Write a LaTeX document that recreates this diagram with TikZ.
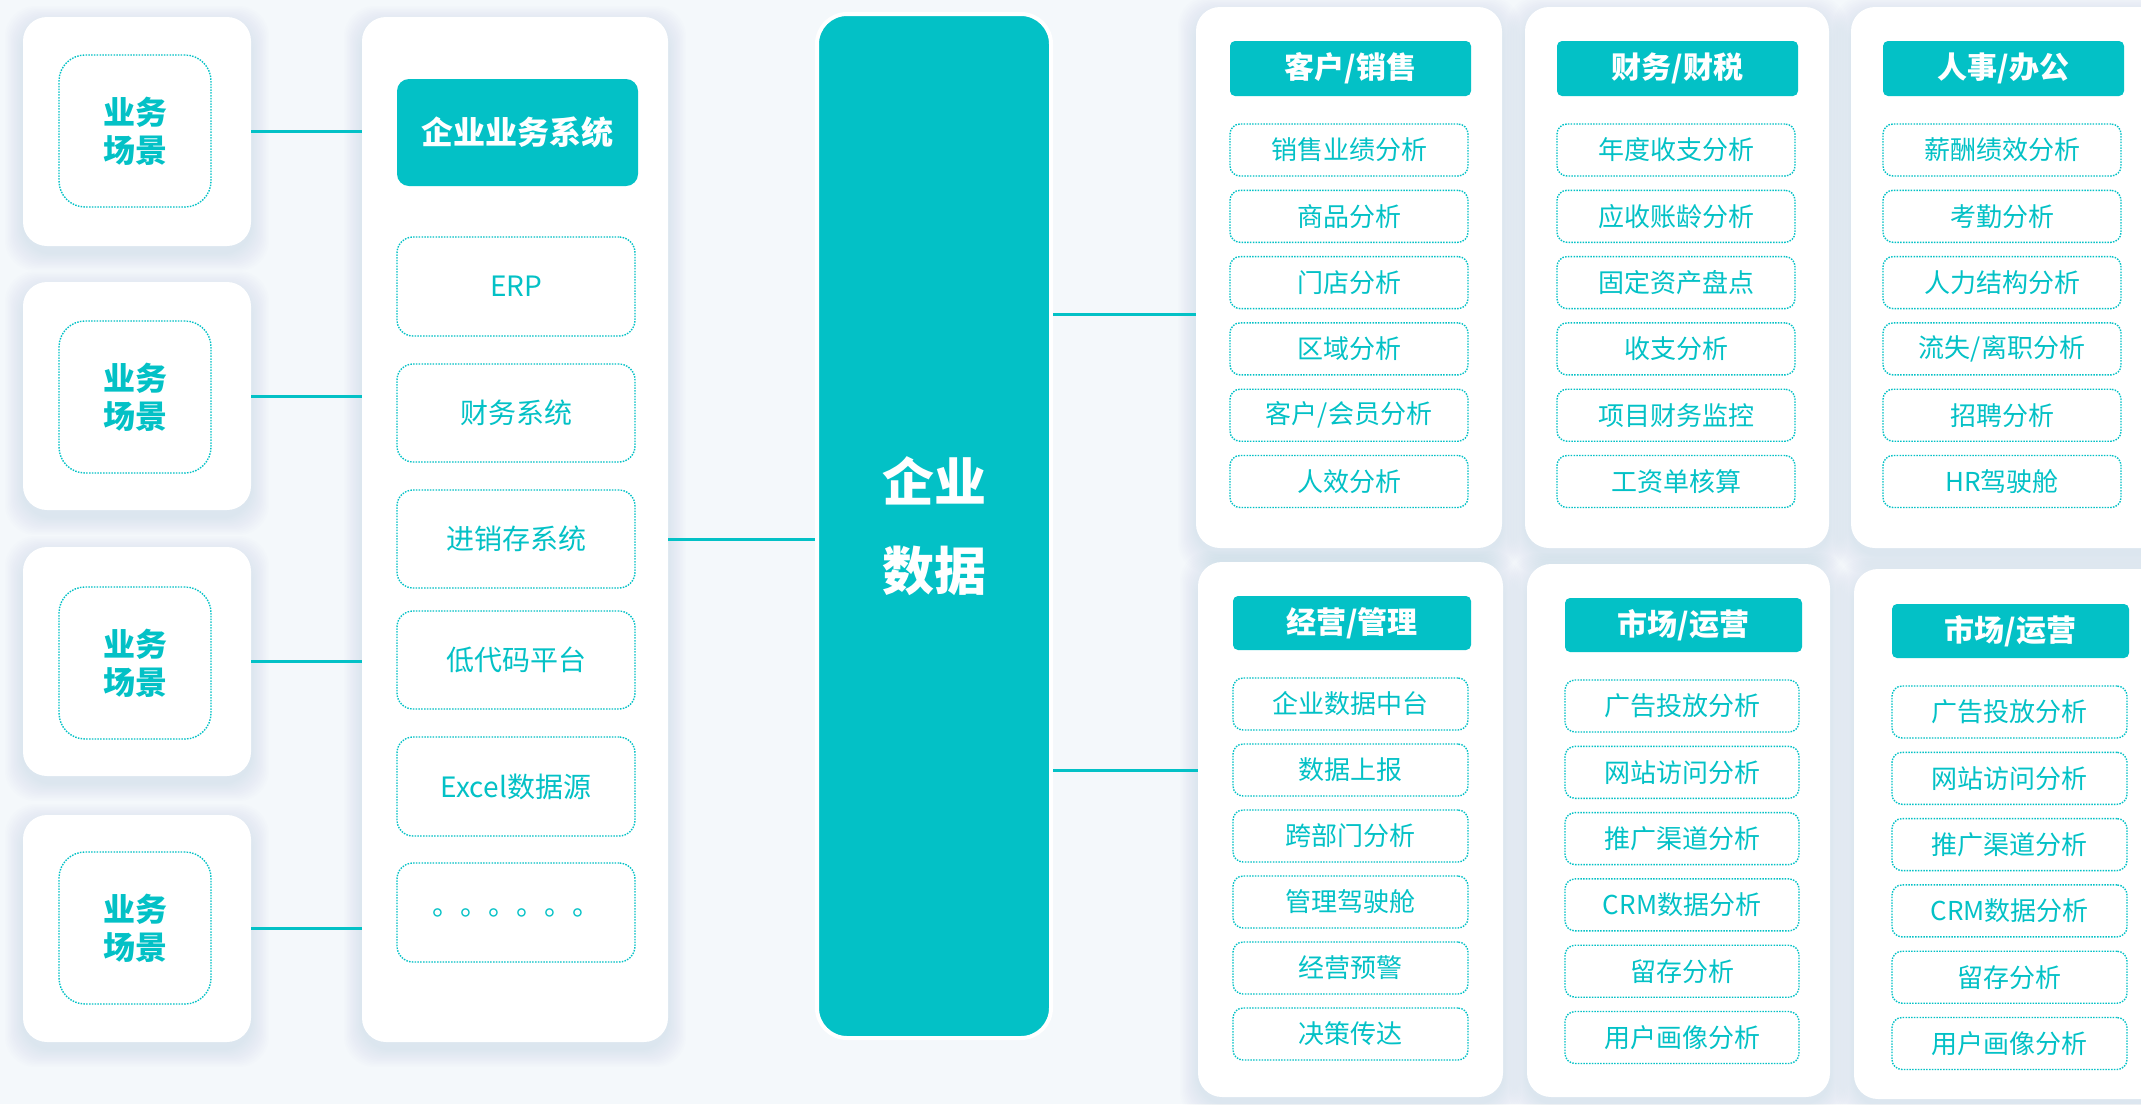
\documentclass[tikz,border=0pt]{standalone}
\usepackage{fontspec}
\setmainfont{Noto Sans CJK SC}
\definecolor{teal1}{HTML}{03C1C6}
\definecolor{bgc}{HTML}{F4F8FB}
\definecolor{shc}{HTML}{7F98A8}
\newcommand\mkbox[7]{%
  \node[#6, minimum width={((#4)-(#2))*1pt}, minimum height={((#5)-(#3))*1pt}, inner sep=0pt]
    (#1) at ({((#2)+(#4))/2},{((#3)+(#5))/2}) {#7};}
\newcommand\mkcard[5]{%
  \foreach \k in {1,...,12}{%
    \fill[shc, fill opacity=0.013, rounded corners=30pt]
      ({(#2)-1.5*\k},{(#3)-1.5*\k+7}) rectangle ({(#4)+1.5*\k},{(#5)+1.5*\k+7});}%
  \mkbox{#1}{#2}{#3}{#4}{#5}{card}{}}
\begin{document}
\begin{tikzpicture}[x=1pt,y=-1pt,
  card/.style={fill=white, rounded corners=24pt},
  dotbox/.style={draw=teal1, line width=1.4pt, dash pattern=on 1.5pt off 1.3pt, rounded corners=10pt,
    text=teal1, font=\fontsize{26}{30}\selectfont},
  sysbox/.style={dotbox, rounded corners=16pt, font=\fontsize{28}{32}\selectfont},
  scenebox/.style={dotbox, rounded corners=26pt, align=center, font=\fontsize{32}{38}\selectfont\bfseries},
  headbox/.style={fill=teal1, rounded corners=5pt, text=white, font=\fontsize{30}{34}\selectfont\bfseries},
  conn/.style={draw=teal1, line width=3pt}]
\clip (0,0) rectangle (2141,1104);
\fill[bgc] (0,0) rectangle (2141,1104);

% ---------- cards / panels ----------
\mkcard{card1}{23}{17}{251}{246}
\mkcard{card2}{23}{282}{251}{510}
\mkcard{card3}{23}{547}{251}{776}
\mkcard{card4}{23}{815}{251}{1042}
\mkcard{sys}{362}{17}{668}{1042}
\mkcard{p1}{1196}{7}{1502}{548}
\mkcard{p2}{1525}{7}{1829}{548}
\mkcard{p3}{1851}{7}{2190}{548}
\mkcard{p4}{1198}{562}{1503}{1097}
\mkcard{p5}{1527}{564}{1830}{1097}
\mkcard{p6}{1854}{569}{2190}{1099}

% ---------- core ----------
\mkbox{core}{817}{14}{1051}{1038}{fill=teal1, draw=white, line width=4pt, rounded corners=30pt,
  align=center, text=white, font=\fontsize{52}{89}\selectfont\bfseries}{企业\\数据}

% ---------- left scenes ----------
\mkbox{s1}{59}{55}{211}{207}{scenebox}{业务\\场景}
\mkbox{s2}{59}{321}{211}{473}{scenebox}{业务\\场景}
\mkbox{s3}{59}{587}{211}{739}{scenebox}{业务\\场景}
\mkbox{s4}{59}{852}{211}{1004}{scenebox}{业务\\场景}

% ---------- system column ----------
\mkbox{syshead}{397}{79}{638}{186}{headbox, rounded corners=12pt, font=\fontsize{32}{36}\selectfont\bfseries}{企业业务系统}
\mkbox{erp}{397}{237}{635}{336}{sysbox}{ERP}
\mkbox{fin}{397}{364}{635}{462}{sysbox}{财务系统}
\mkbox{jxc}{397}{490}{635}{588}{sysbox}{进销存系统}
\mkbox{lowc}{397}{611}{635}{709}{sysbox}{低代码平台}
\mkbox{excel}{397}{737}{635}{836}{sysbox}{Excel数据源}
\mkbox{more}{397}{863}{635}{962}{sysbox}{。。。。。。}

% ---------- category headers ----------
\mkbox{h1}{1230}{41}{1471}{96}{headbox}{客户/销售}
\mkbox{h2}{1557}{41}{1798}{96}{headbox}{财务/财税}
\mkbox{h3}{1883}{41}{2124}{96}{headbox}{人事/办公}
\mkbox{h4}{1233}{596}{1471}{650}{headbox}{经营/管理}
\mkbox{h5}{1565}{598}{1802}{652}{headbox}{市场/运营}
\mkbox{h6}{1892}{604}{2129}{658}{headbox}{市场/运营}

% ---------- items ----------
\foreach \t [count=\i from 0] in {销售业绩分析,商品分析,门店分析,区域分析,客户/会员分析,人效分析}
  {\mkbox{a\i}{1230}{124+66.3*\i}{1468}{176+66.3*\i}{dotbox}{\t}}
\foreach \t [count=\i from 0] in {年度收支分析,应收账龄分析,固定资产盘点,收支分析,项目财务监控,工资单核算}
  {\mkbox{b\i}{1557}{124+66.3*\i}{1795}{176+66.3*\i}{dotbox}{\t}}
\foreach \t [count=\i from 0] in {薪酬绩效分析,考勤分析,人力结构分析,流失/离职分析,招聘分析,HR驾驶舱}
  {\mkbox{c\i}{1883}{124+66.3*\i}{2121}{176+66.3*\i}{dotbox}{\t}}
\foreach \t [count=\i from 0] in {企业数据中台,数据上报,跨部门分析,管理驾驶舱,经营预警,决策传达}
  {\mkbox{d\i}{1233}{678+66*\i}{1468}{730+66*\i}{dotbox}{\t}}
\foreach \t [count=\i from 0] in {广告投放分析,网站访问分析,推广渠道分析,CRM数据分析,留存分析,用户画像分析}
  {\mkbox{e\i}{1565}{680+66.3*\i}{1799}{732+66.3*\i}{dotbox}{\t}}
\foreach \t [count=\i from 0] in {广告投放分析,网站访问分析,推广渠道分析,CRM数据分析,留存分析,用户画像分析}
  {\mkbox{f\i}{1892}{686+66.3*\i}{2127}{738+66.3*\i}{dotbox}{\t}}

% ---------- connectors ----------
\draw[conn] (card1.east) -- (card1.east -| sys.west);
\draw[conn] (card2.east) -- (card2.east -| sys.west);
\draw[conn] (card3.east) -- (card3.east -| sys.west);
\draw[conn] (card4.east) -- (card4.east -| sys.west);
\coordinate (j1) at (740,539);
\coordinate (j2) at (1120,314);
\coordinate (j3) at (1120,770);
\draw[conn] (sys.east |- j1) -- (core.west |- j1);
\draw[conn] (core.east |- j2) -- (p1.west |- j2);
\draw[conn] (core.east |- j3) -- (p4.west |- j3);
\end{tikzpicture}
\end{document}
